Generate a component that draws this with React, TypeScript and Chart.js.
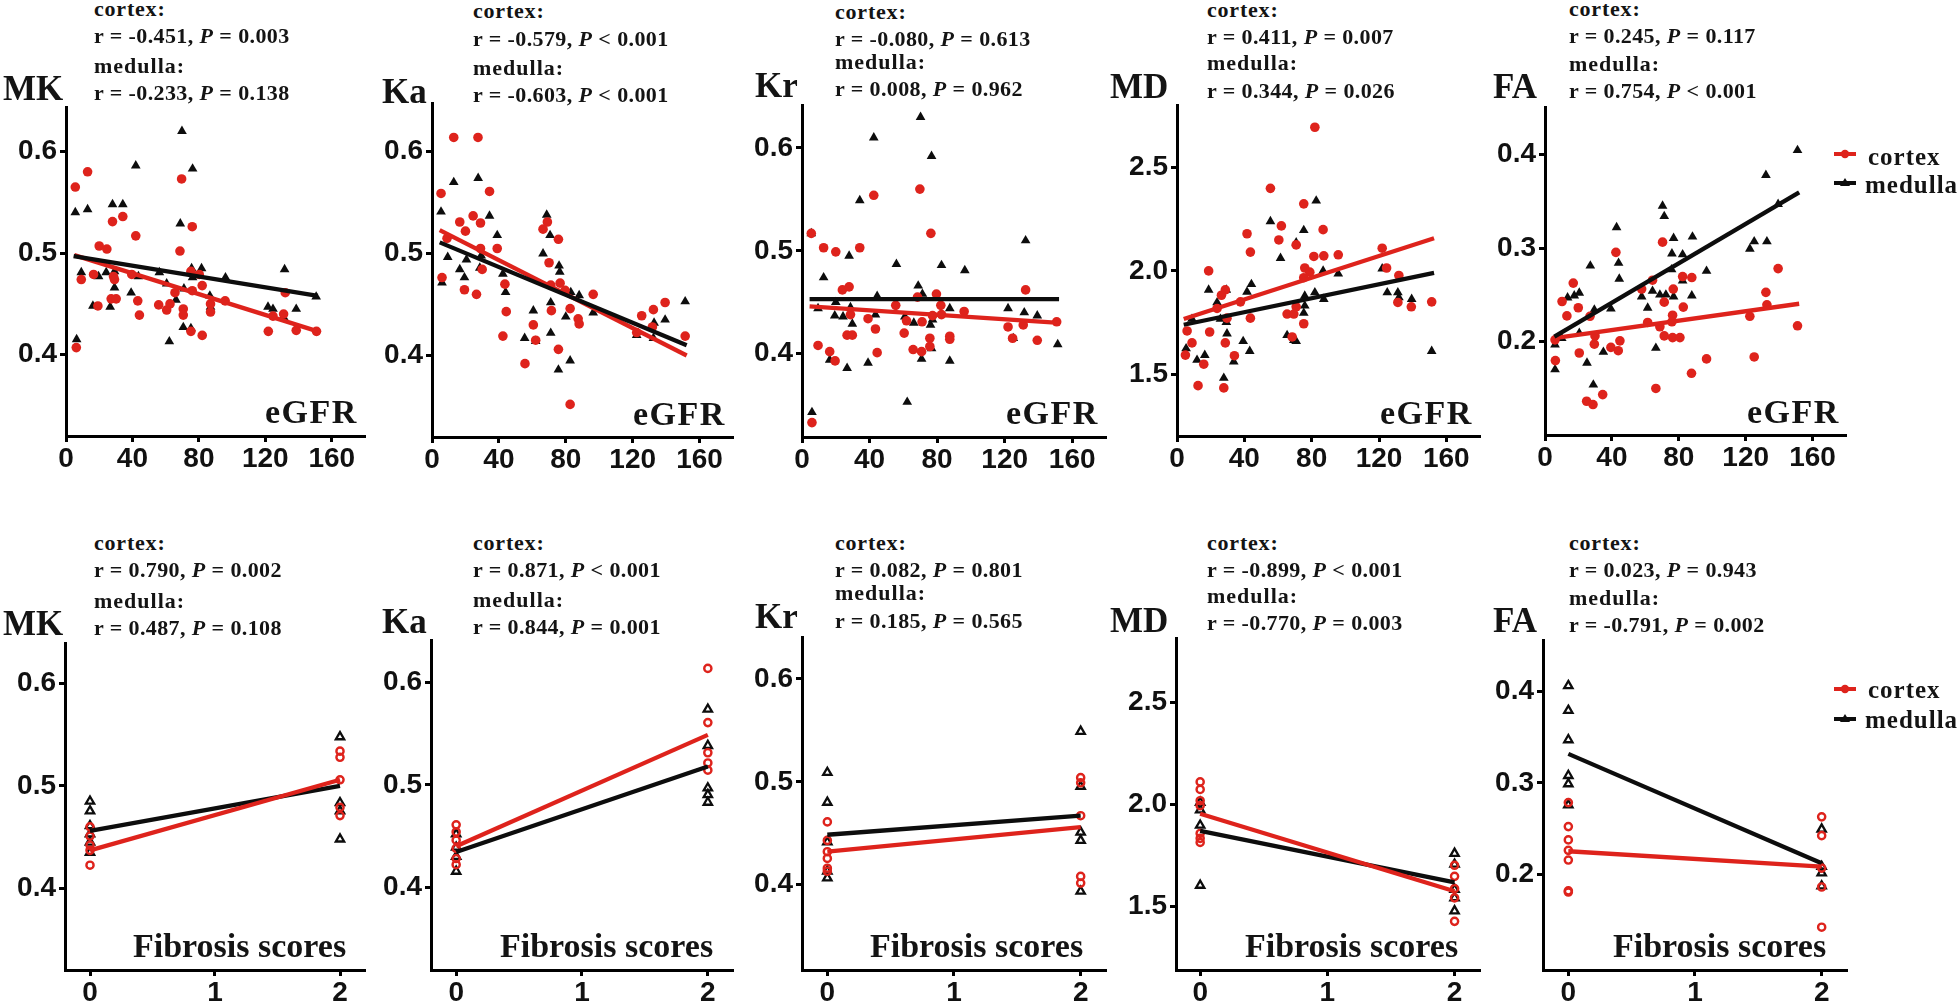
import React, { useEffect, useRef } from "react";
import { Chart, registerables } from "chart.js";

Chart.register(...registerables);

type Pt = [number, number];

const RED = "rgb(222,35,28)";
const BLACK = "#0d0d0d";
const SANS = "'Liberation Sans', Arial, sans-serif";
const SERIF = "'Liberation Serif', 'Times New Roman', serif";

// ---------- tick values ----------
const egfrTicks = [0, 40, 80, 120, 160];
const fibrosisTicks = [0, 1, 2];
const kTicks = [0.4, 0.5, 0.6];
const mdTicks = [1.5, 2.0, 2.5];
const faTicks = [0.2, 0.3, 0.4];

const seriesNames = ["cortex", "medulla"];
const xLabelTop = "eGFR";
const xLabelBottom = "Fibrosis scores";

// ---------- top row: parameters vs eGFR ----------
const mkEgfrCortex: Pt[] = [[5.6,0.565],[13,0.580],[6.2,0.407],[9.2,0.474],[16.6,0.479],[19.2,0.448],[20,0.507],[24.6,0.504],[28,0.531],[28.6,0.477],[29.2,0.474],[27.2,0.455],[30.2,0.455],[34.2,0.536],[39.6,0.479],[42,0.517],[43.2,0.453],[44.2,0.439],[55.8,0.449],[60.6,0.444],[62.6,0.450],[65.6,0.461],[68.6,0.502],[69.6,0.573],[70.6,0.445],[70.6,0.439],[76,0.526],[75.2,0.482],[76,0.463],[75.2,0.423],[80.2,0.479],[82,0.468],[82,0.419],[87,0.450],[87,0.442],[95.8,0.453],[121.8,0.423],[124.6,0.438],[131,0.440],[132,0.461],[138.6,0.424],[150.8,0.423]];
const mkEgfrMedulla: Pt[] = [[5.6,0.540],[6.4,0.415],[9.2,0.481],[13,0.543],[16.2,0.448],[19.6,0.477],[24.2,0.481],[26.6,0.447],[28,0.548],[29.2,0.482],[29.2,0.466],[34.2,0.548],[39.2,0.461],[42,0.586],[43.6,0.477],[56.2,0.481],[60.6,0.470],[62.2,0.413],[66.2,0.454],[68.8,0.529],[69.8,0.620],[71,0.465],[70.6,0.427],[75.2,0.426],[75.6,0.485],[76.2,0.583],[76.2,0.476],[81.6,0.485],[86.6,0.458],[87,0.447],[96,0.476],[121.6,0.447],[124.6,0.445],[131.6,0.484],[131,0.437],[138.6,0.445],[150.6,0.457]];
const mkEgfrCortexFit: Pt[] = [[5,0.498],[151.6,0.423]];
const mkEgfrMedullaFit: Pt[] = [[4.6,0.497],[151.6,0.458]];
const mkEgfrStats = ["-0.451", "= 0.003", "-0.233", "= 0.138"];

const kaEgfrCortex: Pt[] = [[13,0.614],[27.5,0.614],[5.4,0.559],[6,0.4765],[9,0.515],[16.6,0.531],[20,0.522],[19.4,0.4645],[24.6,0.537],[26.6,0.460],[29,0.530],[29,0.505],[30,0.4845],[34.4,0.561],[39,0.505],[42.4,0.419],[43.6,0.470],[44.4,0.443],[55.6,0.392],[60.6,0.430],[62,0.415],[66.4,0.524],[69,0.531],[70,0.491],[71,0.469],[71.4,0.444],[75.6,0.514],[75.6,0.406],[76.6,0.471],[79.6,0.464],[82.6,0.446],[82.6,0.352],[87.4,0.436],[88,0.431],[96.4,0.460],[122.4,0.4225],[125.4,0.439],[132.4,0.445],[131.8,0.428],[139.4,0.452],[151.4,0.419]];
const kaEgfrMedulla: Pt[] = [[5.4,0.541],[6,0.4715],[9.4,0.4965],[13,0.570],[16.6,0.4845],[19.4,0.4765],[20.6,0.494],[27.6,0.574],[28.6,0.486],[29.4,0.498],[34.4,0.537],[39,0.518],[42.4,0.480],[44,0.462],[55.4,0.417],[60.6,0.444],[62,0.414],[66.4,0.500],[68.6,0.538],[70.6,0.518],[71,0.452],[71,0.422],[75.6,0.386],[76,0.488],[76.4,0.482],[80,0.438],[82.6,0.395],[83,0.462],[88,0.459],[96.4,0.442],[122.4,0.420],[132.4,0.417],[132.8,0.432],[139.4,0.435],[151.4,0.453]];
const kaEgfrCortexFit: Pt[] = [[4.6,0.523],[152.3,0.400]];
const kaEgfrMedullaFit: Pt[] = [[4.6,0.511],[152.3,0.410]];
const kaEgfrStats = ["-0.579", "< 0.001", "-0.603", "< 0.001"];

const krEgfrCortex: Pt[] = [[5.5,0.517],[5.9,0.333],[9.5,0.408],[12.8,0.503],[16.4,0.402],[20,0.499],[19.6,0.393],[23.9,0.462],[26.7,0.418],[27.9,0.465],[28.7,0.438],[29.8,0.418],[34.2,0.503],[39.1,0.434],[42.5,0.554],[43.5,0.424],[44.5,0.401],[55.5,0.447],[60.5,0.420],[61.9,0.432],[65.8,0.404],[68.4,0.455],[69.8,0.560],[70.8,0.402],[71.1,0.431],[75.7,0.415],[75.7,0.407],[76.3,0.517],[77.3,0.437],[79.6,0.458],[82.2,0.447],[82.6,0.438],[87.5,0.417],[87.5,0.414],[96,0.441],[122,0.426],[124.7,0.415],[131,0.428],[132.4,0.462],[139.3,0.413],[150.8,0.431]];
const krEgfrMedulla: Pt[] = [[5.9,0.343],[5.5,0.517],[9.5,0.444],[12.8,0.474],[16.4,0.394],[20,0.450],[19.4,0.437],[24.3,0.436],[26.7,0.386],[27.9,0.495],[28.7,0.445],[29.8,0.429],[34.2,0.549],[39.1,0.391],[42.5,0.610],[43.5,0.438],[44.5,0.456],[55.9,0.487],[60.9,0.436],[66.2,0.430],[68.8,0.466],[70.2,0.630],[62.3,0.353],[70.8,0.395],[71.3,0.458],[76.1,0.428],[76.7,0.592],[76.7,0.405],[77.3,0.433],[82.6,0.486],[87.5,0.444],[87.5,0.393],[96.4,0.481],[122,0.444],[125.1,0.415],[131.6,0.440],[132.4,0.510],[139.3,0.437],[151.4,0.409]];
const krEgfrCortexFit: Pt[] = [[4.5,0.446],[152.2,0.430]];
const krEgfrMedullaFit: Pt[] = [[4.5,0.453],[152.2,0.453]];
const krEgfrStats = ["-0.080", "= 0.613", "0.008", "= 0.962"];

const mdEgfrCortex: Pt[] = [[81.9,2.696],[55.5,2.40],[75.3,2.325],[62,2.218],[41.6,2.18],[60.5,2.15],[86.8,2.20],[43.6,2.091],[70.8,2.126],[81.3,2.07],[87.2,2.073],[95.8,2.078],[121.9,2.11],[124.5,2.014],[75.9,2.014],[78.9,1.994],[131.8,1.978],[18.8,2.0],[28.7,1.908],[26.4,1.882],[23.8,1.818],[75.3,1.967],[37.7,1.85],[43.6,1.771],[29.7,1.771],[65.4,1.791],[70.8,1.826],[69.4,1.791],[75.3,1.744],[6,1.709],[19.4,1.704],[8.9,1.651],[28.7,1.651],[68.4,1.68],[5,1.592],[34.1,1.589],[15.9,1.548],[12.5,1.444],[27.8,1.433],[131.2,1.847],[139.2,1.826],[151.3,1.85]];
const mdEgfrMedulla: Pt[] = [[82.7,2.34],[55.5,2.24],[75.3,2.197],[70.8,2.137],[61.5,2.062],[86.8,2.0],[95.8,1.986],[121.9,2.011],[18.8,1.908],[29.3,1.908],[44.2,1.935],[41.6,1.898],[23.8,1.847],[81.9,1.895],[75.9,1.879],[75.9,1.831],[75.3,1.796],[87.2,1.863],[124.9,1.895],[131.2,1.895],[139.4,1.863],[8.9,1.767],[25.8,1.767],[29.3,1.752],[29.7,1.696],[65.4,1.688],[69.4,1.664],[70.8,1.659],[39.3,1.659],[43.2,1.611],[5.4,1.624],[16.5,1.592],[11.9,1.568],[33.7,1.56],[27.8,1.481],[151.3,1.611],[131.8,1.871]];
const mdEgfrCortexFit: Pt[] = [[4,1.767],[152.7,2.158]];
const mdEgfrMedullaFit: Pt[] = [[4,1.739],[152.7,1.99]];
const mdEgfrStats = ["0.411", "= 0.007", "0.344", "= 0.026"];

const faEgfrCortex: Pt[] = [[70.3,0.3063],[42.4,0.2954],[139.4,0.278],[16.9,0.2625],[64.3,0.2656],[82.3,0.2695],[87.8,0.2684],[57.8,0.2561],[76.7,0.2561],[132.1,0.2526],[10.2,0.2428],[71.3,0.2421],[19.9,0.2361],[82.7,0.2368],[132.7,0.2393],[13.1,0.2274],[26.9,0.2270],[76.3,0.2281],[122.5,0.2270],[75.9,0.2211],[61.4,0.2204],[68.7,0.2158],[151,0.2168],[29.9,0.2060],[71.3,0.2060],[76.3,0.2042],[80.7,0.2042],[6,0.2018],[44.8,0.2007],[29.5,0.1972],[39.4,0.1937],[43.8,0.1902],[20.5,0.1877],[125.1,0.1835],[96.6,0.1814],[6.2,0.1796],[87.6,0.166],[66.3,0.1498],[34.5,0.1432],[24.9,0.1361],[28.7,0.1326]];
const faEgfrMedulla: Pt[] = [[151,0.4046],[132.1,0.378],[139.4,0.347],[70.3,0.345],[71.3,0.334],[42.8,0.322],[76.9,0.3105],[88.2,0.312],[125.1,0.307],[132.7,0.307],[122.5,0.299],[75.9,0.294],[82.3,0.293],[44,0.284],[27.1,0.281],[75.7,0.277],[96.6,0.2754],[44.4,0.267],[82.3,0.265],[64.3,0.254],[57.8,0.248],[68.7,0.250],[72.3,0.250],[76.9,0.248],[87.8,0.249],[13.5,0.247],[17.5,0.249],[20.5,0.252],[61.4,0.236],[39.4,0.235],[29.5,0.234],[20.5,0.209],[10,0.2035],[6,0.1965],[34.9,0.1888],[66.3,0.193],[25.1,0.1772],[6,0.170],[28.9,0.1537]];
const faEgfrCortexFit: Pt[] = [[5.6,0.2035],[152,0.2404]];
const faEgfrMedullaFit: Pt[] = [[5.6,0.2053],[152,0.3596]];
const faEgfrStats = ["0.245", "= 0.117", "0.754", "< 0.001"];

// ---------- bottom row: parameters vs fibrosis scores ----------
const mkFibCortex: Pt[] = [[0,0.460],[0,0.451],[0,0.442],[0,0.437],[0,0.4225],[2,0.534],[2,0.528],[2,0.506],[2,0.479],[2,0.471]];
const mkFibMedulla: Pt[] = [[0,0.485],[0,0.4755],[0,0.461],[0,0.453],[0,0.445],[0,0.435],[2,0.548],[2,0.4835],[2,0.4755],[2,0.448]];
const mkFibCortexFit: Pt[] = [[0,0.437],[2,0.506]];
const mkFibMedullaFit: Pt[] = [[0,0.456],[2,0.500]];
const mkFibStats = ["0.790", "= 0.002", "0.487", "= 0.108"];

const kaFibCortex: Pt[] = [[0,0.461],[0,0.454],[0,0.446],[0,0.438],[0,0.428],[0,0.422],[2,0.614],[2,0.561],[2,0.5315],[2,0.5215],[2,0.5145]];
const kaFibMedulla: Pt[] = [[0,0.452],[0,0.439],[0,0.430],[0,0.4155],[2,0.574],[2,0.5385],[2,0.497],[2,0.4905],[2,0.483]];
const kaFibCortexFit: Pt[] = [[0,0.440],[2,0.549]];
const kaFibMedullaFit: Pt[] = [[0,0.4345],[2,0.518]];
const kaFibStats = ["0.871", "< 0.001", "0.844", "= 0.001"];

const krFibCortex: Pt[] = [[0,0.461],[0,0.443],[0,0.432],[0,0.4255],[0,0.416],[0,0.413],[2,0.504],[2,0.499],[2,0.467],[2,0.408],[2,0.4015]];
const krFibMedulla: Pt[] = [[0,0.509],[0,0.480],[0,0.4415],[0,0.413],[0,0.4065],[2,0.549],[2,0.4955],[2,0.451],[2,0.443],[2,0.3935]];
const krFibCortexFit: Pt[] = [[0,0.432],[2,0.456]];
const krFibMedullaFit: Pt[] = [[0,0.4485],[2,0.467]];
const krFibStats = ["0.082", "= 0.801", "0.185", "= 0.565"];

const mdFibCortex: Pt[] = [[0,2.11],[0,2.073],[0,2.018],[0,1.994],[0,1.858],[0,1.834],[0,1.814],[2,1.702],[2,1.648],[2,1.588],[2,1.543],[2,1.428]];
const mdFibMedulla: Pt[] = [[0,2.01],[0,1.973],[0,1.898],[0,1.604],[2,1.76],[2,1.707],[2,1.584],[2,1.543],[2,1.479]];
const mdFibCortexFit: Pt[] = [[0,1.954],[2,1.575]];
const mdFibMedullaFit: Pt[] = [[0,1.871],[2,1.619]];
const mdFibStats = ["-0.899", "< 0.001", "-0.770", "= 0.003"];

const faFibCortex: Pt[] = [[0,0.2786],[0,0.2524],[0,0.2379],[0,0.2265],[0,0.2159],[0,0.1823],[0,0.181],[2,0.263],[2,0.2425],[2,0.2071],[2,0.1865],[2,0.1427]];
const faFibMedulla: Pt[] = [[0,0.406],[0,0.379],[0,0.347],[0,0.308],[0,0.299],[0,0.276],[2,0.2496],[2,0.2088],[2,0.2018],[2,0.1876]];
const faFibCortexFit: Pt[] = [[0,0.2255],[2,0.2088]];
const faFibMedullaFit: Pt[] = [[0,0.3317],[2,0.2124]];
const faFibStats = ["0.023", "= 0.943", "-0.791", "= 0.002"];

// ---------- panel specifications ----------
type Spec = {
  name: string;
  cortex: Pt[];
  medulla: Pt[];
  cortexFit: Pt[];
  medullaFit: Pt[];
  stats: string[];
  xMin: number;
  xMax: number;
  yMin: number;
  yMax: number;
  xTicks: number[];
  yTicks: number[];
  xDec: number;
  filled: boolean;
  xLabel: string;
  x0: number; x1: number; yT: number; yB: number;
  textX: number; textB: number[];
  titleX: number; titleB: number;
  labelX: number; labelB: number;
};

const specs: Spec[] = [
  { name: "MK", cortex: mkEgfrCortex, medulla: mkEgfrMedulla, cortexFit: mkEgfrCortexFit, medullaFit: mkEgfrMedullaFit, stats: mkEgfrStats,
    xMin: 0, xMax: 180, yMin: 0.32, yMax: 0.643, xTicks: egfrTicks, yTicks: kTicks, xDec: 0, filled: true, xLabel: xLabelTop,
    x0: 66, x1: 365, yT: 102, yB: 436, textX: 94, textB: [16, 43, 73, 100], titleX: 3, titleB: 100, labelX: 265, labelB: 423 },
  { name: "Ka", cortex: kaEgfrCortex, medulla: kaEgfrMedulla, cortexFit: kaEgfrCortexFit, medullaFit: kaEgfrMedullaFit, stats: kaEgfrStats,
    xMin: 0, xMax: 180, yMin: 0.32, yMax: 0.647, xTicks: egfrTicks, yTicks: kTicks, xDec: 0, filled: true, xLabel: xLabelTop,
    x0: 432, x1: 733, yT: 98, yB: 437, textX: 473, textB: [18, 46, 75, 102], titleX: 382, titleB: 103, labelX: 633, labelB: 425 },
  { name: "Kr", cortex: krEgfrCortex, medulla: krEgfrMedulla, cortexFit: krEgfrCortexFit, medullaFit: krEgfrMedullaFit, stats: krEgfrStats,
    xMin: 0, xMax: 180, yMin: 0.319, yMax: 0.641, xTicks: egfrTicks, yTicks: kTicks, xDec: 0, filled: true, xLabel: xLabelTop,
    x0: 802, x1: 1106, yT: 100, yB: 437, textX: 835, textB: [19, 46, 69, 96], titleX: 755, titleB: 97, labelX: 1006, labelB: 424 },
  { name: "MD", cortex: mdEgfrCortex, medulla: mdEgfrMedulla, cortexFit: mdEgfrCortexFit, medullaFit: mdEgfrMedullaFit, stats: mdEgfrStats,
    xMin: 0, xMax: 180, yMin: 1.2, yMax: 2.8, xTicks: egfrTicks, yTicks: mdTicks, xDec: 0, filled: true, xLabel: xLabelTop,
    x0: 1177, x1: 1480, yT: 100, yB: 436, textX: 1207, textB: [17, 44, 70, 98], titleX: 1110, titleB: 98, labelX: 1380, labelB: 424 },
  { name: "FA", cortex: faEgfrCortex, medulla: faEgfrMedulla, cortexFit: faEgfrCortexFit, medullaFit: faEgfrMedullaFit, stats: faEgfrStats,
    xMin: 0, xMax: 180, yMin: 0.1, yMax: 0.45, xTicks: egfrTicks, yTicks: faTicks, xDec: 0, filled: true, xLabel: xLabelTop,
    x0: 1545, x1: 1846, yT: 102, yB: 435, textX: 1569, textB: [16, 43, 71, 98], titleX: 1493, titleB: 98, labelX: 1747, labelB: 423 },

  { name: "MK", cortex: mkFibCortex, medulla: mkFibMedulla, cortexFit: mkFibCortexFit, medullaFit: mkFibMedullaFit, stats: mkFibStats,
    xMin: -0.2, xMax: 2.2, yMin: 0.32, yMax: 0.639, xTicks: fibrosisTicks, yTicks: kTicks, xDec: 0, filled: false, xLabel: xLabelBottom,
    x0: 65, x1: 365, yT: 638, yB: 970, textX: 94, textB: [550, 577, 608, 635], titleX: 3, titleB: 635, labelX: 133, labelB: 957 },
  { name: "Ka", cortex: kaFibCortex, medulla: kaFibMedulla, cortexFit: kaFibCortexFit, medullaFit: kaFibMedullaFit, stats: kaFibStats,
    xMin: -0.2, xMax: 2.2, yMin: 0.319, yMax: 0.641, xTicks: fibrosisTicks, yTicks: kTicks, xDec: 0, filled: false, xLabel: xLabelBottom,
    x0: 431, x1: 733, yT: 635, yB: 970, textX: 473, textB: [550, 577, 607, 634], titleX: 382, titleB: 633, labelX: 500, labelB: 957 },
  { name: "Kr", cortex: krFibCortex, medulla: krFibMedulla, cortexFit: krFibCortexFit, medullaFit: krFibMedullaFit, stats: krFibStats,
    xMin: -0.2, xMax: 2.2, yMin: 0.317, yMax: 0.640, xTicks: fibrosisTicks, yTicks: kTicks, xDec: 0, filled: false, xLabel: xLabelBottom,
    x0: 802, x1: 1106, yT: 632, yB: 970, textX: 835, textB: [550, 577, 600, 628], titleX: 755, titleB: 628, labelX: 870, labelB: 957 },
  { name: "MD", cortex: mdFibCortex, medulla: mdFibMedulla, cortexFit: mdFibCortexFit, medullaFit: mdFibMedullaFit, stats: mdFibStats,
    xMin: -0.19, xMax: 2.2, yMin: 1.19, yMax: 2.81, xTicks: fibrosisTicks, yTicks: mdTicks, xDec: 0, filled: false, xLabel: xLabelBottom,
    x0: 1176, x1: 1480, yT: 633, yB: 970, textX: 1207, textB: [550, 577, 603, 630], titleX: 1110, titleB: 632, labelX: 1245, labelB: 957 },
  { name: "FA", cortex: faFibCortex, medulla: faFibMedulla, cortexFit: faFibCortexFit, medullaFit: faFibMedullaFit, stats: faFibStats,
    xMin: -0.2, xMax: 2.2, yMin: 0.096, yMax: 0.455, xTicks: fibrosisTicks, yTicks: faTicks, xDec: 0, filled: false, xLabel: xLabelBottom,
    x0: 1543, x1: 1847, yT: 635, yB: 970, textX: 1569, textB: [550, 577, 605, 632], titleX: 1493, titleB: 632, labelX: 1613, labelB: 957 },
];

const YW = 60;
const XH = 50;
const PT = 14;
const PR = 14;

function Panel({ s }: { s: Spec }) {
  const ref = useRef<HTMLCanvasElement | null>(null);
  const w = s.x1 - s.x0 + YW + PR;
  const h = s.yB - s.yT + PT + XH;
  useEffect(() => {
    if (!ref.current) return;
    const xy = (a: Pt[]) => a.map(([x, y]) => ({ x, y }));
    const line = (d: Pt[], c: string) => ({
      data: xy(d), showLine: true, borderColor: c, backgroundColor: c, borderWidth: 4.3, pointRadius: 0, fill: false,
    });
    const cPts = {
      data: xy(s.cortex), showLine: false, pointStyle: "circle", pointRadius: s.filled ? 4.8 : 3.6,
      backgroundColor: s.filled ? RED : "rgba(0,0,0,0)", borderColor: RED, borderWidth: s.filled ? 0 : 2.4,
    };
    const mPts = {
      data: xy(s.medulla), showLine: false, pointStyle: "triangle", pointRadius: s.filled ? 5.6 : 4.8,
      backgroundColor: s.filled ? BLACK : "rgba(0,0,0,0)", borderColor: BLACK, borderWidth: s.filled ? 0 : 2.3,
    };
    const datasets = s.filled
      ? [line(s.medullaFit, BLACK), line(s.cortexFit, RED), cPts, mPts]
      : [line(s.cortexFit, RED), line(s.medullaFit, BLACK), cPts, mPts];
    const tickFont = { family: SANS, size: 28, weight: "bold" as const };
    const common = {
      type: "linear" as const,
      grid: { drawOnChartArea: false, drawTicks: true, tickLength: 6, tickWidth: 3, tickColor: "#000" },
      border: { display: true, color: "#000", width: 3 },
    };
    const chart = new Chart(ref.current, {
      type: "scatter",
      data: { datasets: datasets as any },
      options: {
        responsive: false,
        animation: false,
        events: [],
        layout: { padding: { top: PT, right: PR, left: 0, bottom: 0 } },
        plugins: { legend: { display: false }, tooltip: { enabled: false } },
        scales: {
          x: {
            ...common,
            min: s.xMin,
            max: s.xMax,
            afterBuildTicks: (sc: any) => { sc.ticks = s.xTicks.map((v) => ({ value: v })); },
            afterFit: (sc: any) => { sc.height = XH; },
            ticks: { font: tickFont, color: "#111", padding: 0, maxRotation: 0, autoSkip: false,
              callback: (v: any) => Number(v).toFixed(s.xDec) },
          },
          y: {
            ...common,
            min: s.yMin,
            max: s.yMax,
            afterBuildTicks: (sc: any) => { sc.ticks = s.yTicks.map((v) => ({ value: v })); },
            afterFit: (sc: any) => { sc.width = YW; },
            ticks: { font: tickFont, color: "#111", padding: 3, autoSkip: false,
              callback: (v: any) => Number(v).toFixed(1) },
          },
        },
      } as any,
    });
    return () => chart.destroy();
  }, []);
  return (
    <canvas
      ref={ref}
      width={w}
      height={h}
      style={{ position: "absolute", left: s.x0 - YW, top: s.yT - PT, width: w, height: h }}
    />
  );
}

function T(props: { x: number; b: number; size: number; ls?: number; sans?: boolean; children: React.ReactNode }) {
  const asc = props.sans ? 0.8465 : 0.8375;
  return (
    <div
      style={{
        position: "absolute",
        left: props.x,
        top: props.b - props.size * asc,
        fontSize: props.size,
        lineHeight: `${props.size}px`,
        fontFamily: props.sans ? SANS : SERIF,
        fontWeight: "bold",
        letterSpacing: props.ls ?? 0,
        whiteSpace: "nowrap",
        color: "#141414",
      }}
    >
      {props.children}
    </div>
  );
}

function Legend({ y1, y2, b1, b2 }: { y1: number; y2: number; b1: number; b2: number }) {
  return (
    <>
      <svg style={{ position: "absolute", left: 1831, top: y1 - 8, width: 28, height: 16 }}>
        <line x1={3} y1={8} x2={25} y2={8} stroke={RED} strokeWidth={4} />
        <circle cx={14} cy={8} r={4.2} fill={RED} />
      </svg>
      <T x={1868} b={b1} size={25} ls={1}>{seriesNames[0]}</T>
      <svg style={{ position: "absolute", left: 1831, top: y2 - 8, width: 28, height: 16 }}>
        <line x1={3} y1={8} x2={25} y2={8} stroke={BLACK} strokeWidth={4} />
        <polygon points="14,3 19,11 9,11" fill={BLACK} />
      </svg>
      <T x={1865} b={b2} size={25} ls={1}>{seriesNames[1]}</T>
    </>
  );
}

export default function App() {
  return (
    <div style={{ position: "absolute", left: 0, top: 0, width: 1960, height: 1008, background: "#fff", overflow: "hidden" }}>
      {specs.map((s, i) => (
        <Panel key={"p" + i} s={s} />
      ))}
      {specs.map((s, i) => (
        <React.Fragment key={"t" + i}>
          <T x={s.titleX} b={s.titleB} size={35}>{s.name}</T>
          <T x={s.textX} b={s.textB[0]} size={22} ls={0.8}>{seriesNames[0]}:</T>
          <T x={s.textX} b={s.textB[1]} size={22} ls={0.4}>
            r = {s.stats[0]}, <i>P</i> {s.stats[1]}
          </T>
          <T x={s.textX} b={s.textB[2]} size={22} ls={1}>{seriesNames[1]}:</T>
          <T x={s.textX} b={s.textB[3]} size={22} ls={0.4}>
            r = {s.stats[2]}, <i>P</i> {s.stats[3]}
          </T>
          <T x={s.labelX} b={s.labelB} size={34} ls={s.xLabel === xLabelTop ? 1.5 : 0}>
            {s.xLabel}
          </T>
        </React.Fragment>
      ))}
      <Legend y1={154} y2={183} b1={165} b2={193} />
      <Legend y1={689} y2={719} b1={698} b2={728} />
    </div>
  );
}
